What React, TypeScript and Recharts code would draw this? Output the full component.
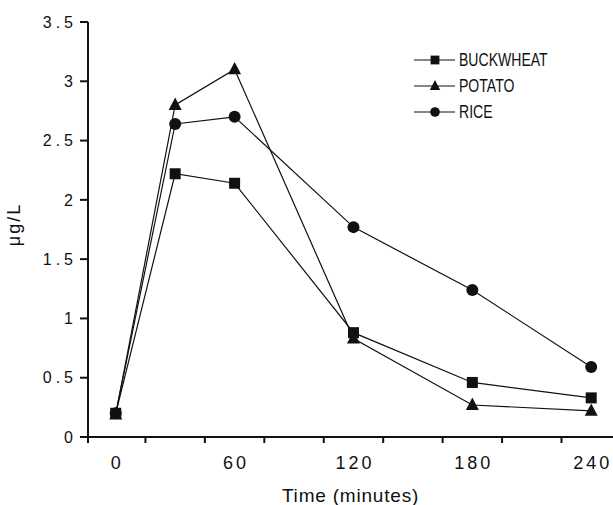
import React from 'react';
import { LineChart, Line, XAxis, YAxis, Label } from 'recharts';

const minutes = [0, 30, 60, 120, 180, 240];
const buckwheat = [0.2, 2.22, 2.14, 0.88, 0.46, 0.33];
const potato = [0.19, 2.8, 3.1, 0.83, 0.27, 0.22];
const rice = [0.2, 2.64, 2.7, 1.77, 1.24, 0.59];

const xLabelTicks = [0, 60, 120, 180, 240];
const xMinorTicks = [-14, 15, 45, 75, 105, 135, 165, 195, 225];
const yTicks = [0, 0.5, 1, 1.5, 2, 2.5, 3, 3.5];

const allXTicks = [...xMinorTicks, ...xLabelTicks].sort((a, b) => a - b);

const FONT = '"Liberation Sans", Arial, Helvetica, sans-serif';
const INK = '#111';

const chartData = minutes.map((m, i) => ({
  minute: m,
  buckwheat: buckwheat[i],
  potato: potato[i],
  rice: rice[i],
}));

type Shape = 'square' | 'triangle' | 'circle';

function Marker({ cx, cy, shape, size }: { cx: number; cy: number; shape: Shape; size: number }) {
  if (shape === 'square') {
    return <rect x={cx - size / 2} y={cy - size / 2} width={size} height={size} fill={INK} />;
  }
  if (shape === 'triangle') {
    const h = size * 0.95;
    return (
      <polygon
        points={`${cx},${cy - h * 0.6} ${cx - size / 2},${cy + h * 0.4} ${cx + size / 2},${cy + h * 0.4}`}
        fill={INK}
      />
    );
  }
  return <circle cx={cx} cy={cy} r={size / 2} fill={INK} />;
}

const SERIES: { key: string; name: string; shape: Shape; size: number }[] = [
  { key: 'buckwheat', name: 'BUCKWHEAT', shape: 'square', size: 11 },
  { key: 'potato', name: 'POTATO', shape: 'triangle', size: 13 },
  { key: 'rice', name: 'RICE', shape: 'circle', size: 12 },
];

// minor ticks sit between the labelled ones (tick marks only, no text)
function XTick({ x, y, payload }: any) {
  const v = payload?.value;
  if (xMinorTicks.includes(v)) {
    return <line x1={x} y1={y} x2={x} y2={y + 6} stroke={INK} strokeWidth={2} />;
  }
  return (
    <text
      x={x + 1.5}
      y={y + 19}
      dy="0.71em"
      textAnchor="middle"
      fill={INK}
      fontSize={18}
      fontFamily={FONT}
      letterSpacing={3}
    >
      {v}
    </text>
  );
}

// legend drawn as an overlay so it doesn't eat into the plot area
function LegendBox() {
  return (
    <div
      style={{
        position: 'absolute',
        left: 414,
        top: 47,
        fontFamily: FONT,
        fontSize: 18,
        color: INK,
      }}
    >
      {SERIES.map((s) => (
        <div key={s.key} style={{ display: 'flex', alignItems: 'center', height: 26 }}>
          <svg width={42} height={16}>
            <line x1={0} y1={8} x2={41} y2={8} stroke={INK} strokeWidth={1.2} />
            <Marker cx={21} cy={8} shape={s.shape} size={s.size * 0.8} />
          </svg>
          <span
            style={{
              marginLeft: 3,
              display: 'inline-block',
              transform: 'scaleX(0.78)',
              transformOrigin: 'left center',
              whiteSpace: 'nowrap',
            }}
          >
            {s.name}
          </span>
        </div>
      ))}
    </div>
  );
}

export default function App() {
  return (
    <div style={{ position: 'absolute', left: 0, top: 0, width: 613, height: 505, background: '#fff' }}>
      <LineChart
        width={613}
        height={505}
        data={chartData}
        margin={{ top: 22, right: 0, left: 0, bottom: 0 }}
      >
        <XAxis
          dataKey="minute"
          type="number"
          domain={[-14, 251]}
          ticks={allXTicks}
          interval={0}
          allowDataOverflow
          axisLine={{ stroke: INK, strokeWidth: 2 }}
          tickLine={false}
          tickSize={0}
          tickMargin={0}
          height={68}
          tick={<XTick />}
        >
          <Label
            value="Time (minutes)"
            position="insideBottom"
            offset={3}
            style={{ fill: INK, fontSize: 19, fontFamily: FONT, letterSpacing: 0.8 }}
          />
        </XAxis>
        <YAxis
          type="number"
          domain={[0, 3.5]}
          ticks={yTicks}
          width={88}
          axisLine={{ stroke: INK, strokeWidth: 2 }}
          tickLine={{ stroke: INK, strokeWidth: 2 }}
          tickSize={8}
          tickMargin={3}
          tick={{ fill: INK, fontSize: 16, fontFamily: FONT, letterSpacing: 4 }}
        >
          <Label
            value="μg/L"
            angle={-90}
            position="insideLeft"
            offset={14}
            dy={-5}
            style={{ fill: INK, fontSize: 18, fontFamily: FONT, letterSpacing: 2, textAnchor: 'middle' }}
          />
        </YAxis>
        {SERIES.map((s) => (
          <Line
            key={s.key}
            dataKey={s.key}
            name={s.name}
            stroke={INK}
            strokeWidth={1.2}
            isAnimationActive={false}
            dot={(p: any) => (
              <Marker key={`${s.key}-${p.index}`} cx={p.cx} cy={p.cy} shape={s.shape} size={s.size} />
            )}
            activeDot={false}
          />
        ))}
      </LineChart>
      <LegendBox />
    </div>
  );
}
